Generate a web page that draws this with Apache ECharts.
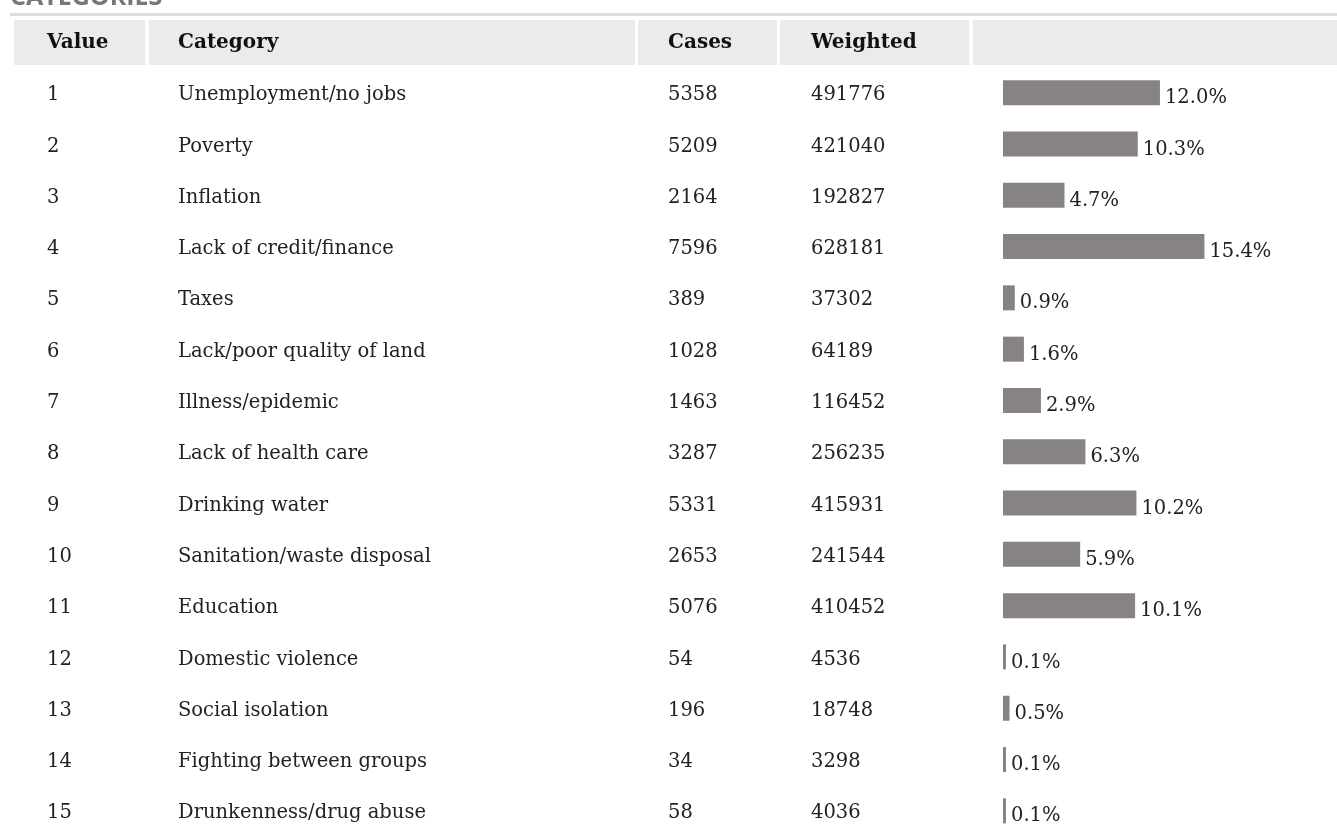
<!DOCTYPE html>
<html>
<head>
<meta charset="utf-8">
<script src="https://cdn.jsdelivr.net/npm/echarts@6/dist/echarts.min.js"></script>
<style>
html,body{margin:0;padding:0;background:#fff;}
#chart{width:1337px;height:825px;}
</style>
</head>
<body>
<div id="chart"></div>
<script>
const title = 'CATEGORIES';
const headers = ['Value', 'Category', 'Cases', 'Weighted'];
const values = ['1','2','3','4','5','6','7','8','9','10','11','12','13','14','15'];
const categories = ['Unemployment/no jobs','Poverty','Inflation','Lack of credit/finance','Taxes','Lack/poor quality of land','Illness/epidemic','Lack of health care','Drinking water','Sanitation/waste disposal','Education','Domestic violence','Social isolation','Fighting between groups','Drunkenness/drug abuse'];
const cases = [5358,5209,2164,7596,389,1028,1463,3287,5331,2653,5076,54,196,34,58];
const weighted = [491776,421040,192827,628181,37302,64189,116452,256235,415931,241544,410452,4536,18748,3298,4036];
const percents = [12.0,10.3,4.7,15.4,0.9,1.6,2.9,6.3,10.2,5.9,10.1,0.1,0.5,0.1,0.1];

const FONT = 'DejaVu Serif';
const BODY_SIZE = 19.5;
const TEXT_COLOR = '#222';
const GRID_LEFT = 1003;
const colX = [47, 178, 668, 811];
const colData = [values, categories, cases.map(String), weighted.map(String)];

const chart = echarts.init(document.getElementById('chart'), null, {renderer:'canvas'});

const yAxes = [{
  type:'category', data: values, inverse:true, show:false, gridIndex:0
}];
colData.forEach((d, i) => {
  yAxes.push({
    type:'category', data:d, inverse:true, position:'left', gridIndex:0,
    offset: GRID_LEFT - colX[i],
    axisLine:{show:false}, axisTick:{show:false}, splitLine:{show:false},
    axisLabel:{align:'left', margin:0, interval:0, fontFamily:FONT, fontSize:BODY_SIZE, color:TEXT_COLOR,
      formatter: v => '{t|' + v + '}',
      rich:{t:{fontFamily:FONT, fontSize:BODY_SIZE, color:TEXT_COLOR, padding:[5,0,0,0]}}}
  });
});

const headerCells = [[14,145],[149,635],[638,777],[780,969],[973,1337]];
const graphics = [];
graphics.push({type:'text', x:10, y:-2.5, style:{text:title, fontFamily:'Open Sans', fontWeight:'bold', fontSize:25, fill:'#777', verticalAlign:'middle', align:'left'}});
graphics.push({type:'rect', shape:{x:10, y:13, width:1327, height:3}, style:{fill:'#dddddd'}});
headerCells.forEach(c => {
  graphics.push({type:'rect', shape:{x:c[0], y:20, width:c[1]-c[0], height:45}, style:{fill:'#ebebeb'}});
});
headers.forEach((h, i) => {
  graphics.push({type:'text', x:colX[i], y:43, style:{text:h, fontFamily:FONT, fontWeight:'bold', fontSize:20, fill:'#111', verticalAlign:'middle', align:'left'}});
});

chart.setOption({
  animation:false,
  backgroundColor:'#fff',
  grid:{left:GRID_LEFT, top:67, width:327, height:769.5, outerBoundsMode:'none'},
  xAxis:{type:'value', min:0, max:25, show:false},
  yAxis: yAxes,
  graphic: graphics,
  series:[{
    type:'bar', data:percents, yAxisIndex:0, barWidth:25, barMinHeight:3,
    itemStyle:{color:'#878382'},
    label:{show:true, position:'right', distance:5, offset:[0,5.5], fontFamily:FONT, fontSize:BODY_SIZE, color:TEXT_COLOR,
      formatter: p => p.value.toFixed(1) + '%'}
  }]
});
</script>
</body>
</html>
